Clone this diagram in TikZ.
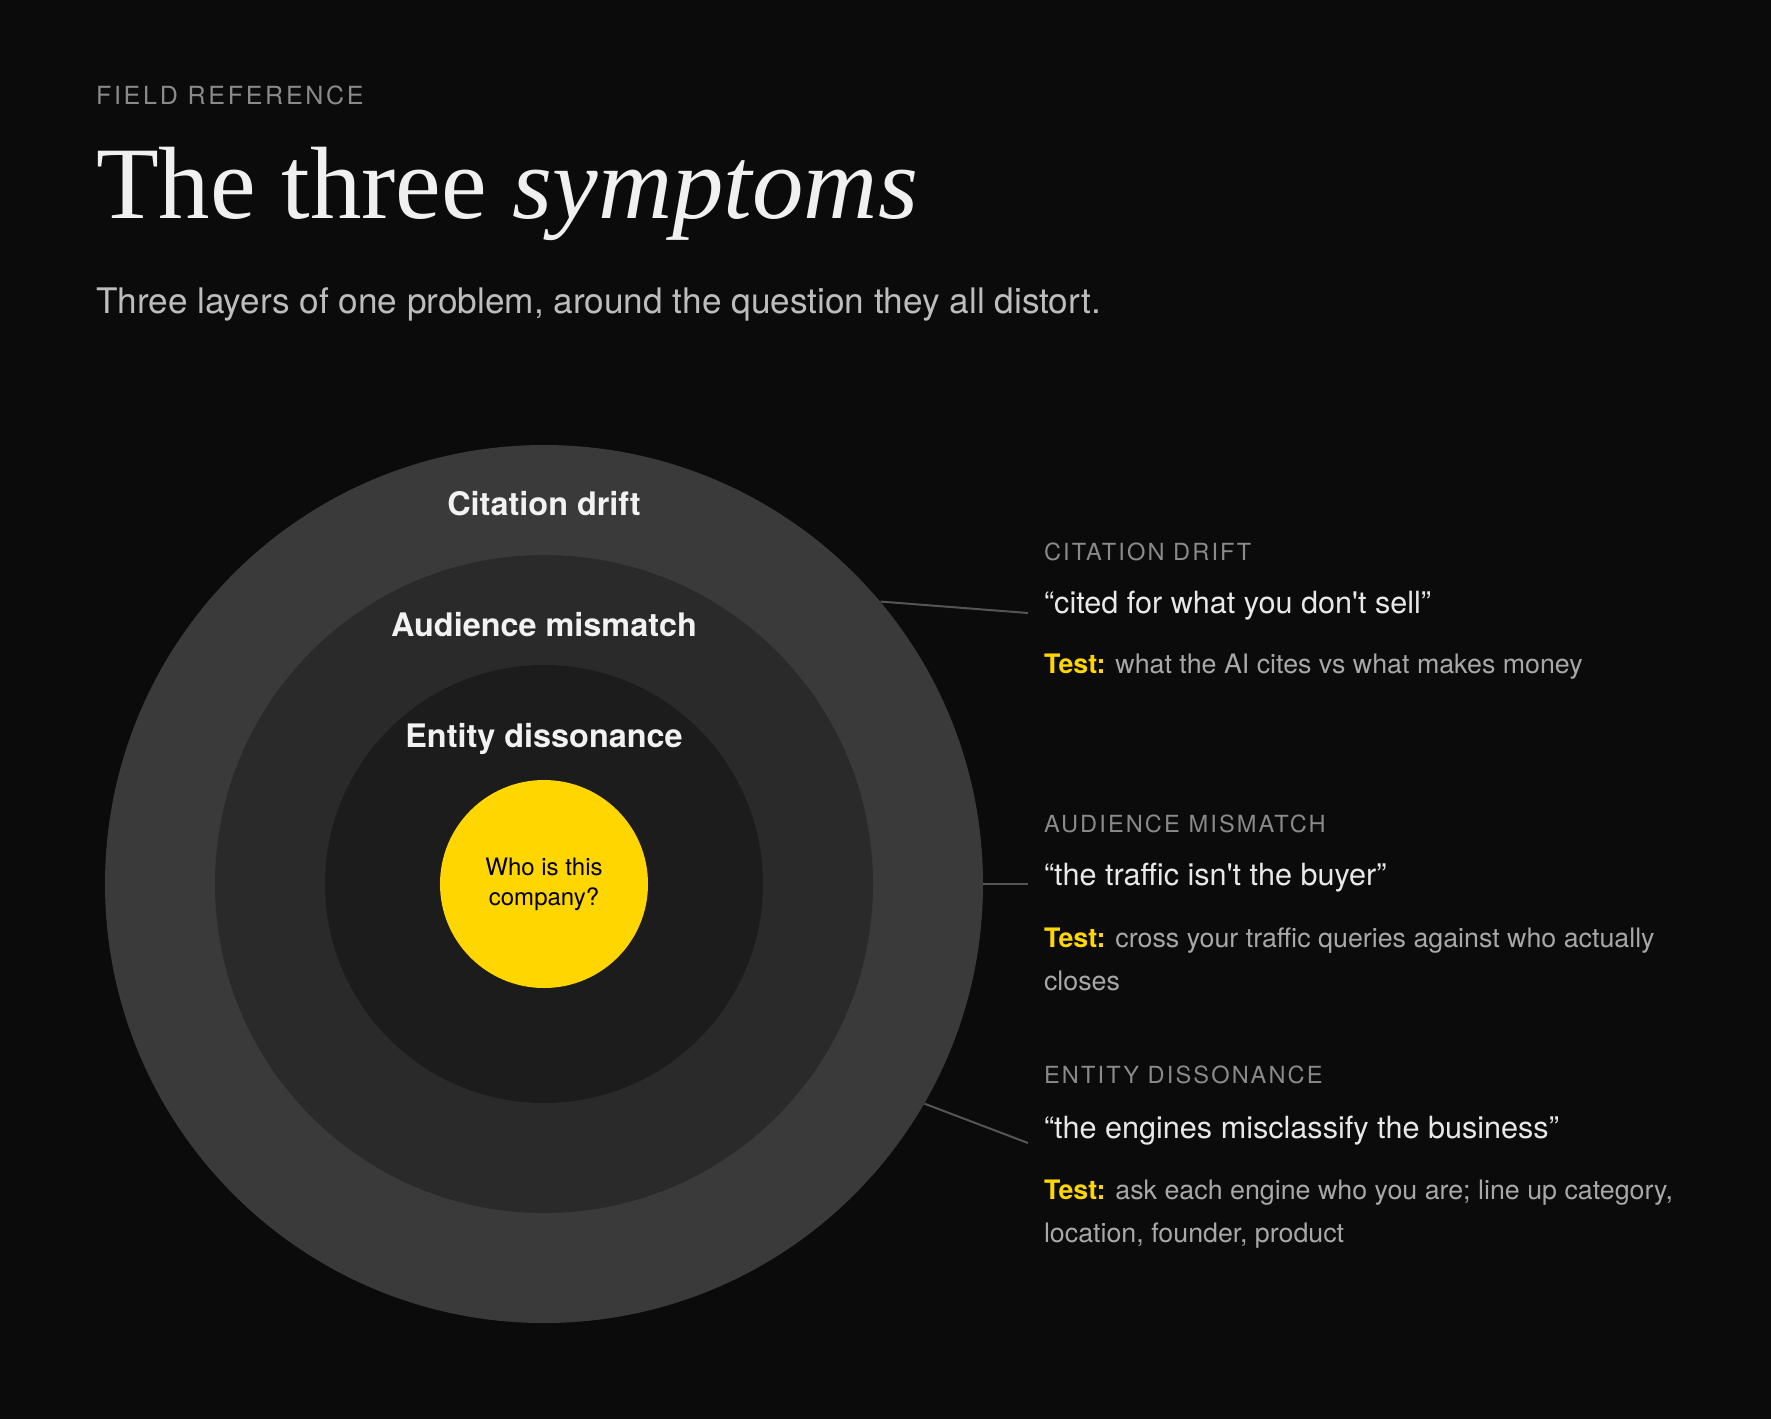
\documentclass[tikz,border=0pt]{standalone}
\usepackage{fontspec}
\setmainfont{TeX Gyre Heros}
\newfontfamily\serifhead{Liberation Serif}
\usetikzlibrary{positioning}

\definecolor{bg}{HTML}{0B0B0B}
\definecolor{ringA}{HTML}{3A3A3A}
\definecolor{ringB}{HTML}{2A2A2A}
\definecolor{ringC}{HTML}{1C1C1C}
\definecolor{core}{HTML}{FFD600}
\definecolor{kicker}{HTML}{8A8A8A}
\definecolor{quote}{HTML}{E8E8E8}
\definecolor{note}{HTML}{A8A8A8}
\definecolor{leadc}{HTML}{555555}

\begin{document}
\begin{tikzpicture}[
    x=0.5pt, y=-0.5pt,
    txt/.style={anchor=base west, inner sep=0pt, outer sep=0pt},
    ring/.style={circle, inner sep=0pt, draw=none},
    ringlbl/.style={anchor=base, inner sep=0pt, text=white!95!black,
      font=\fontsize{16.2}{19}\selectfont\bfseries},
    kick/.style={txt, text=kicker,
      font=\fontsize{11.8}{14}\selectfont\addfontfeatures{LetterSpace=9}},
    quot/.style={txt, text=quote, font=\fontsize{15.3}{18}\selectfont},
    test/.style={txt, text=note, align=left, font=\fontsize{13.4}{21.5}\selectfont},
    leader/.style={draw=leadc, line width=1pt}]
  \fill[bg] (0,0) rectangle (1771,1419);

  % heading
  \node[txt, text=kicker, font=\fontsize{12.5}{15}\selectfont\addfontfeatures{LetterSpace=11}]
    (kicker) at (96,104) {FIELD REFERENCE};
  \node[txt, text=white!94!black, font=\fontsize{51.4}{56}\selectfont\serifhead]
    (title) at (96,218) {The three \textit{symptoms}};
  \node[txt, text=white!74!black, font=\fontsize{17.6}{21}\selectfont]
    (sub) at (96,313) {Three layers of one problem, around the question they all distort.};

  % rings
  \node[ring, fill=ringA, minimum size=439pt] (outer) at (544,884) {};
  \node[ring, fill=ringB, minimum size=329pt] (middle) at (544,884) {};
  \node[ring, fill=ringC, minimum size=219pt] (inner) at (544,884) {};
  \node[ring, fill=core, minimum size=104pt, align=center, text=black,
    font=\fontsize{12}{15}\selectfont] (q) at (544,884) {Who is this\\company?};

  \node[ringlbl] (l1) at (544,515) {Citation drift};
  \node[ringlbl] (l2) at (544,636) {Audience mismatch};
  \node[ringlbl] (l3) at (544,747) {Entity dissonance};

  % right column (multi-line notes sit on their last baseline)
  \node[kick] (h1) at (1044,560) {CITATION DRIFT};
  \node[quot] (s1) at (1044,613) {“cited for what you don\textquotesingle t sell”};
  \node[test] (t1) at (1044,673) {\textcolor{core}{\bfseries Test:} what the AI cites vs what makes money};

  \node[kick] (h2) at (1044,832) {AUDIENCE MISMATCH};
  \node[quot] (s2) at (1044,885) {“the traffic isn\textquotesingle t the buyer”};
  \node[test] (t2) at (1044,990) {\textcolor{core}{\bfseries Test:} cross your traffic queries against who actually\\closes};

  \node[kick] (h3) at (1044,1083) {ENTITY DISSONANCE};
  \node[quot] (s3) at (1044,1138) {“the engines misclassify the business”};
  \node[test] (t3) at (1044,1242) {\textcolor{core}{\bfseries Test:} ask each engine who you are; line up category,\\location, founder, product};

  % leaders
  \coordinate (e1) at (1028,613);
  \coordinate (e2) at (1028,884);
  \coordinate (e3) at (1028,1143);
  \draw[leader] (outer.40.5) -- (e1);
  \draw[leader] (outer.0) -- (e2);
  \draw[leader] (outer.-30.5) -- (e3);
\end{tikzpicture}
\end{document}
